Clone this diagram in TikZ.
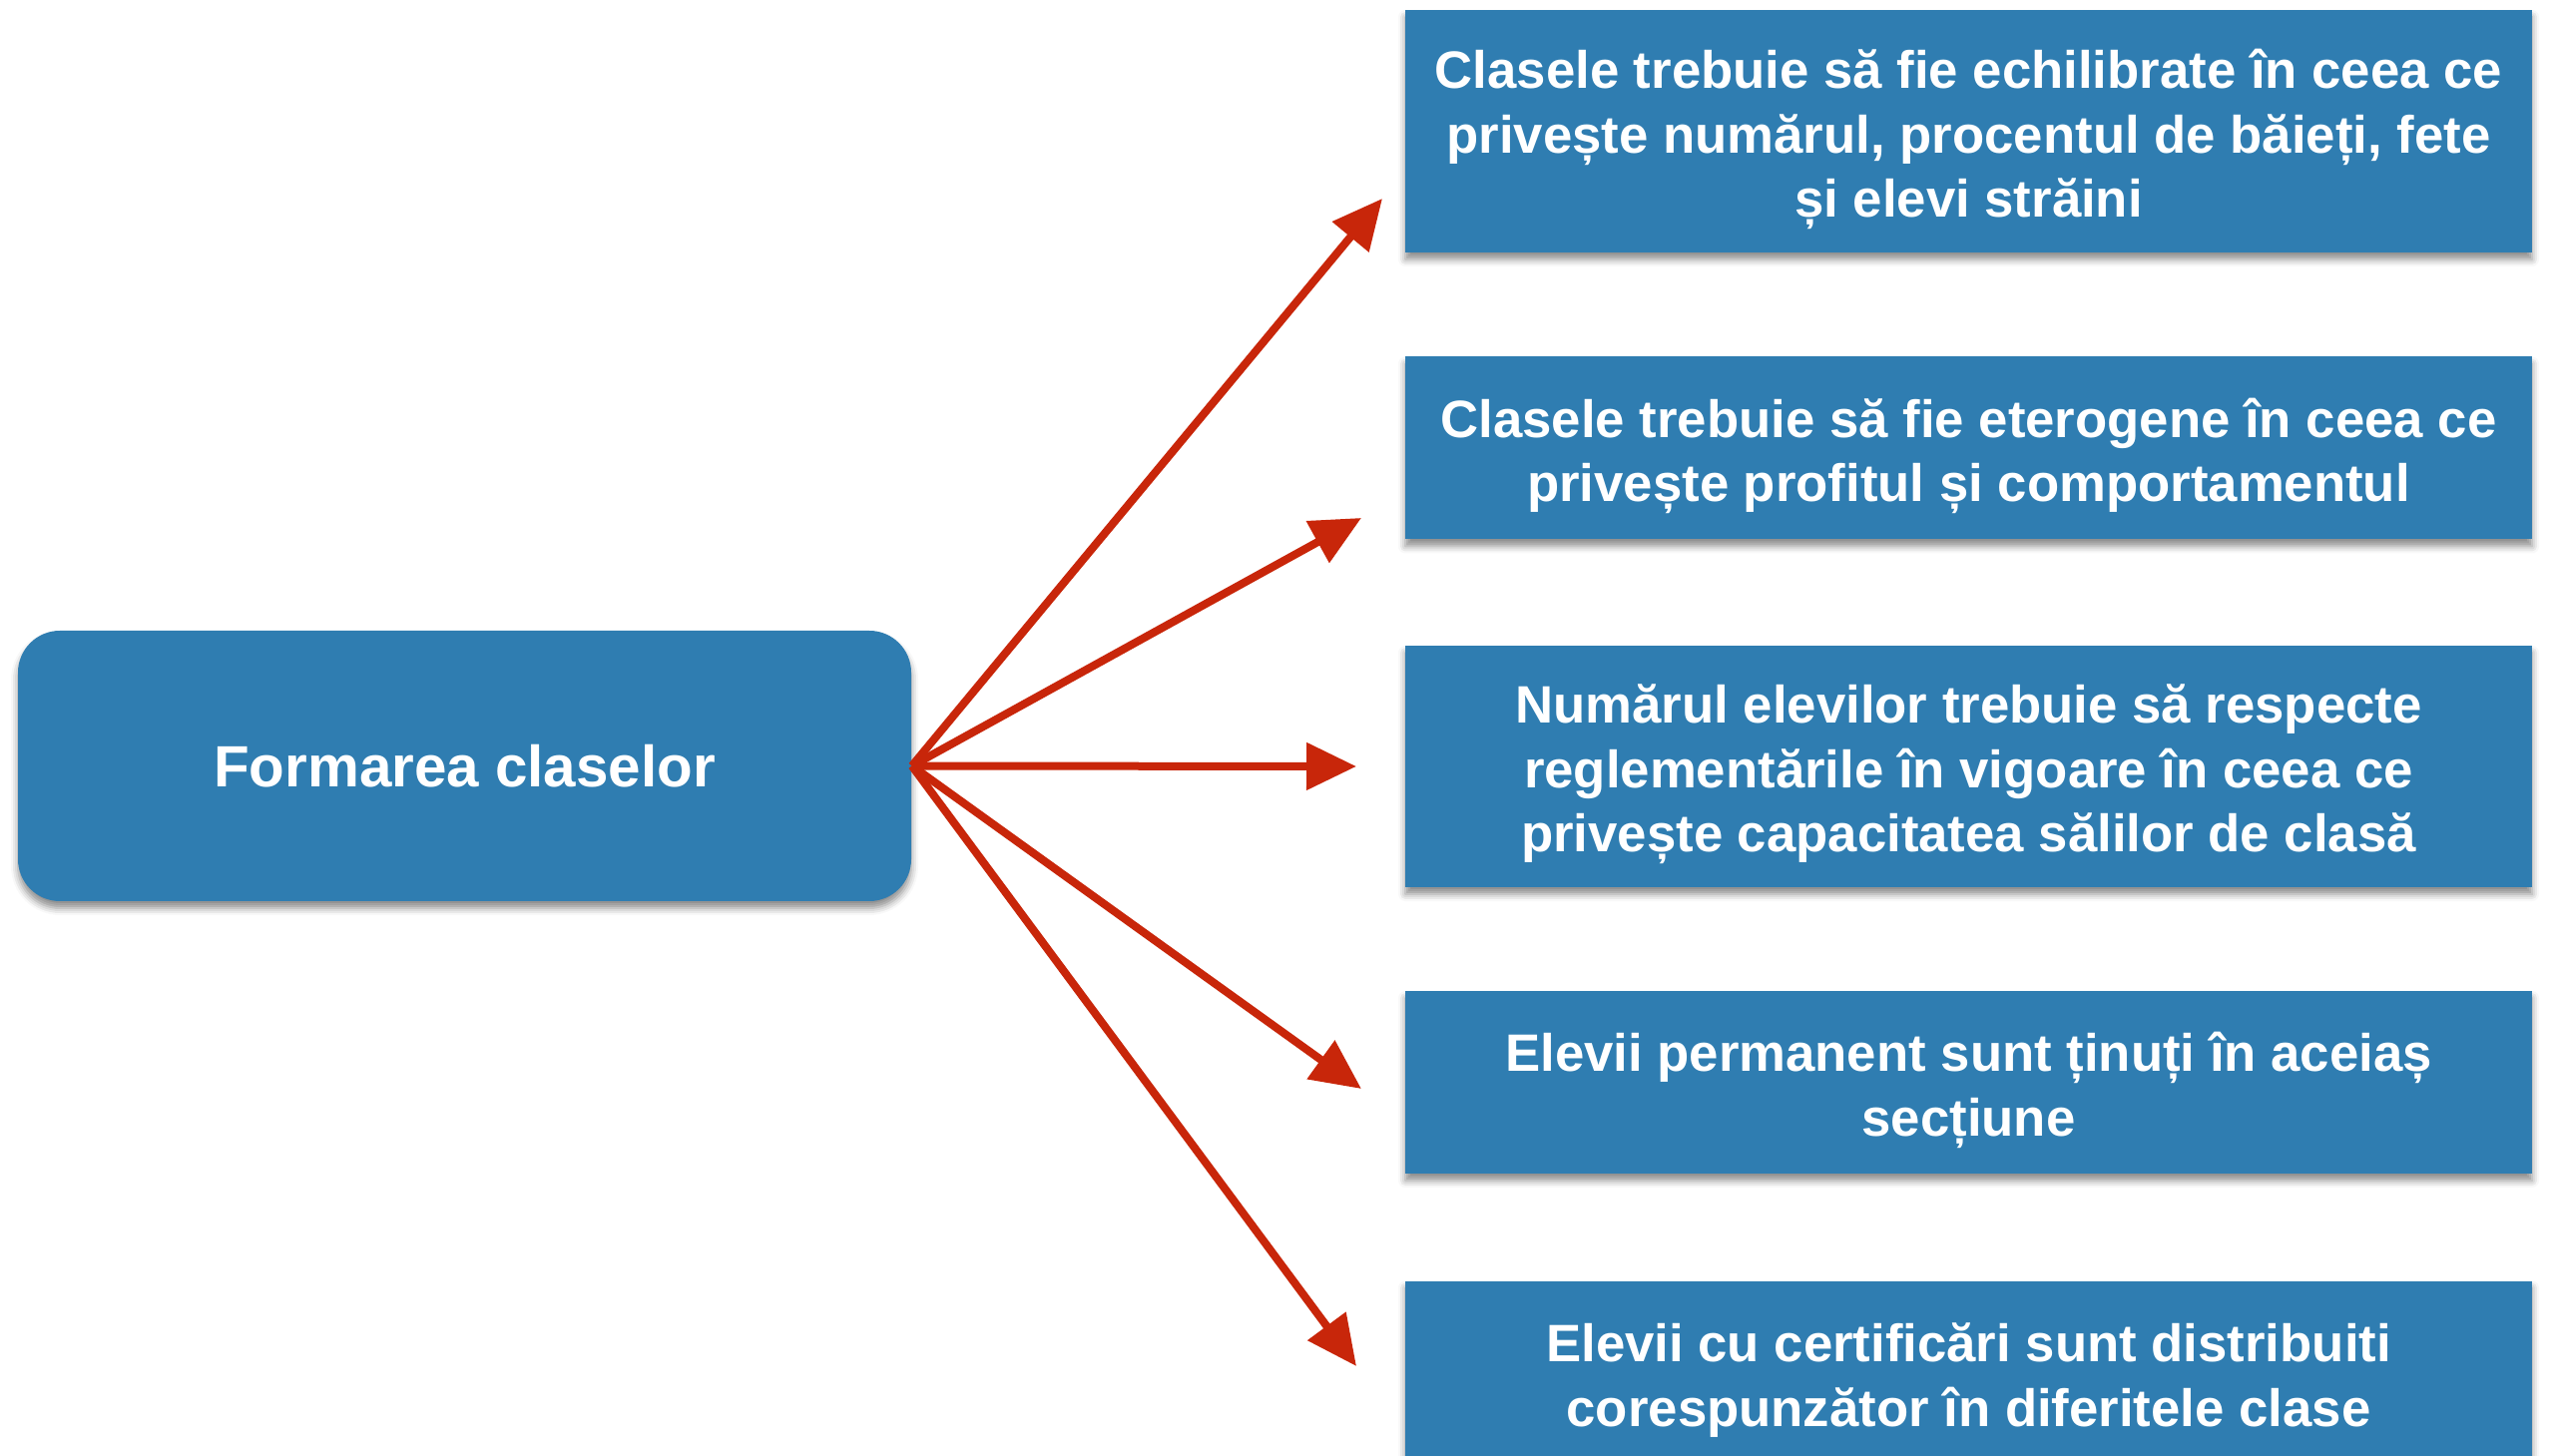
\documentclass[tikz,border=0pt]{standalone}
\usepackage{fontspec}
\setmainfont{Liberation Sans}
\usetikzlibrary{arrows.meta, shadows.blur}
\definecolor{bl}{RGB}{47, 125, 177}
\definecolor{rd}{RGB}{200, 38, 10}

\begin{document}
\begin{tikzpicture}[
    base/.style={fill=bl, inner sep=0pt,
        blur shadow={shadow xshift=0cm, shadow yshift=-0.07cm, shadow blur radius=0.07cm, shadow opacity=45}},
    mainbox/.style={base, text=white, rounded corners=0.42cm, minimum width=8.95cm, minimum height=2.71cm,
        font=\fontsize{16.6}{20}\selectfont\bfseries},
    rulebox/.style={base, minimum width=11.29cm},
    ruletext/.style={text=white, align=center, inner sep=0pt, yshift=-0.08cm,
        font=\fontsize{15}{18.3}\selectfont\bfseries},
    arr/.style={-{Triangle[length=0.5cm, width=0.46cm]}, rd, line width=0.08cm}
]
    \useasboundingbox (0,0) rectangle (25.61,-14.59);

    % Main node
    \node[mainbox] (form) at (4.655,-7.675) {Formarea claselor};

    % Rules
    \node[rulebox, minimum height=2.43cm, label={[ruletext]center:{Clasele trebuie să fie echilibrate în ceea ce\\ privește numărul, procentul de băieți, fete\\ și elevi străini}}] (r1) at (19.725,-1.315) {};
    \node[rulebox, minimum height=1.83cm, label={[ruletext]center:{Clasele trebuie să fie eterogene în ceea ce\\ privește profitul și comportamentul}}] (r2) at (19.725,-4.49) {};
    \node[rulebox, minimum height=2.42cm, label={[ruletext]center:{Numărul elevilor trebuie să respecte\\ reglementările în vigoare în ceea ce\\ privește capacitatea sălilor de clasă}}] (r3) at (19.725,-7.68) {};
    \node[rulebox, minimum height=1.83cm, label={[ruletext]center:{Elevii permanent sunt ținuți în aceiaș\\ secțiune}}] (r4) at (19.725,-10.845) {};
    \node[rulebox, minimum height=1.83cm, label={[ruletext]center:{Elevii cu certificări sunt distribuiti\\ corespunzător în diferitele clase}}] (r5) at (19.725,-13.75) {};

    % Arrow tips
    \coordinate (t1) at (13.85,-1.99);
    \coordinate (t2) at (13.64,-5.19);
    \coordinate (t3) at (13.59,-7.68);
    \coordinate (t4) at (13.64,-10.91);
    \coordinate (t5) at (13.59,-13.69);

    \foreach \t in {t1,t2,t3,t4,t5}
        \draw[arr] (form.east) -- (\t);
\end{tikzpicture}
\end{document}
